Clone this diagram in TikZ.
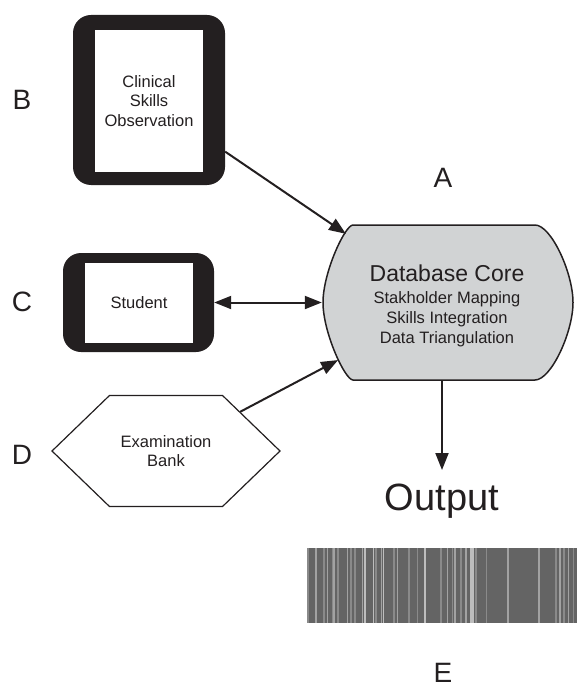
\documentclass[tikz,border=0pt]{standalone}
\usepackage{fontspec}
\setmainfont{Liberation Sans}
\usetikzlibrary{arrows.meta,shapes.misc,shapes.symbols}
\definecolor{ink}{HTML}{231F20}
\definecolor{coregray}{HTML}{D1D3D4}
\definecolor{bargray}{HTML}{646464}
\definecolor{stripeA}{HTML}{8A8A8A}
\definecolor{stripeB}{HTML}{A2A2A2}
\definecolor{stripeC}{HTML}{BDBDBD}

\begin{document}
\begin{tikzpicture}[x=1pt,y=-1pt,
		lbl/.style={font=\fontsize{28}{32}\selectfont,text=ink},
		small/.style={font=\fontsize{16.5}{19.5}\selectfont,text=ink,align=center},
		frame/.style={fill=ink,rounded corners=18pt,inner sep=0pt},
		screen/.style={fill=white,inner sep=0pt,small},
		link/.style={ink,line width=2pt,-{Triangle[length=17pt,width=13pt]}},
		twoway/.style={ink,line width=2pt,{Triangle[length=17pt,width=13pt]}-{Triangle[length=17pt,width=13pt]}}]
		\useasboundingbox (0,0) rectangle (577,687);
		
		% inputs
		\node[frame,minimum width=152pt,minimum height=170pt] (obs) at (149,100) {};
		\node[screen,minimum width=108pt,minimum height=142pt] (obsscreen) at (149,101) {Clinical\\Skills\\Observation};
		\node[frame,minimum width=151pt,minimum height=99pt] (student) at (138.5,302.5) {};
		\node[screen,minimum width=108pt,minimum height=80pt] (studentscreen) at (139,303) {Student};
		\node[signal,signal to=west and east,signal pointer angle=88,draw=ink,line width=1.2pt,
			minimum width=228pt,minimum height=111pt,small] (bank) at (166,451) {Examination\\Bank};
		
		% core
		\node[rounded rectangle,rounded rectangle arc length=90,
			minimum width=250pt,minimum height=155pt,inner sep=0pt] (core) at (447,302.5) {};
		\draw[shift={(core.center)},ink,line width=1.5pt,fill=coregray]
			(-94,-77.5) -- (88,-77.5) .. controls (104,-77.5) and (126,-30) .. (126,0)
			.. controls (126,30) and (104,77.5) .. (88,77.5) -- (-94,77.5)
			.. controls (-102,77.5) and (-124,30) .. (-124,0)
			.. controls (-124,-30) and (-102,-77.5) .. (-94,-77.5) -- cycle;
		\node[small,font=\fontsize{16.5}{20}\selectfont] (coretext) at ([yshift=-3pt]core.center)
			{{\fontsize{23}{27}\selectfont Database Core}\\[2pt]Stakholder Mapping\\Skills Integration\\Data Triangulation};
		
		\draw[link] (obs) -- (core);
		\draw[link] (bank) -- (core);
		\draw[twoway] (student) -- (core);
		
		% output
		\node[font=\fontsize{38}{42}\selectfont,text=ink,inner sep=0pt,anchor=base] (output) at (442,510) {Output};
		\coordinate (outtip) at (442,470);
		\draw[link] (core.south -| outtip) -- (outtip);
		
		\fill[bargray] (307,548) rectangle (577,623);
		\foreach \x/\c in {307.3/stripeA,315/stripeB,323.3/stripeA,326.7/stripeB,331.7/stripeA,333.3/stripeB,
			337.3/stripeA,346.7/stripeB,350/stripeA,354/stripeA,361.7/stripeB,364/stripeC,372.7/stripeC,375.3/stripeA,
			380.7/stripeB,382.7/stripeC,393.3/stripeA,396.7/stripeB,408.3/stripeA,416.7/stripeA,424/stripeC,
			440/stripeA,446.7/stripeB,451.7/stripeA,454/stripeB,460/stripeA,465/stripeB,470/stripeC,472.3/stripeC,
			475/stripeA,485.7/stripeA,507.3/stripeB,538.3/stripeB,555/stripeA,559.3/stripeB,563.3/stripeA,
			567.7/stripeB,572.7/stripeA}
			\fill[\c] (\x,548) rectangle ++(1.5,75);
		
		% letters
		\node[lbl] (lblA) at (443,178) {A};
		\node[lbl] (lblB) at (22,100) {B};
		\node[lbl] (lblC) at (22,302) {C};
		\node[lbl] (lblD) at (22,455) {D};
		\node[lbl] (lblE) at (443,673) {E};
	\end{tikzpicture}
\end{document}
